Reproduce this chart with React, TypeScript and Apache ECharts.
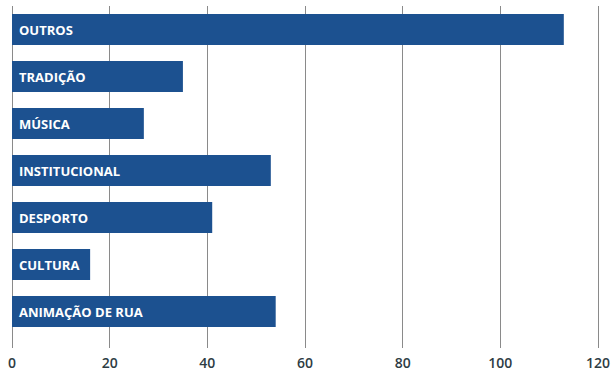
import React, { useEffect, useRef } from "react";
import * as echarts from "echarts";

const categories = ["OUTROS", "TRADIÇÃO", "MÚSICA", "INSTITUCIONAL", "DESPORTO", "CULTURA", "ANIMAÇÃO DE RUA"];
const values = [113, 35, 27, 53, 41, 16, 54];
const xTicks = { min: 0, max: 120, interval: 20 };

export default function App() {
  const ref = useRef<HTMLDivElement>(null);
  useEffect(() => {
    const chart = echarts.init(ref.current!, undefined, { renderer: "svg" });
    chart.setOption({
      animation: false,
      backgroundColor: "#ffffff",
      grid: { left: 12, right: 12, top: 6, bottom: 35, containLabel: false },
      xAxis: {
        type: "value",
        min: xTicks.min,
        max: xTicks.max,
        interval: xTicks.interval,
        axisLine: { show: false },
        axisTick: { show: true, length: 13, lineStyle: { color: "#8a8a8a", width: 1 } },
        splitLine: { show: true, lineStyle: { color: "#8a8a8a", width: 1 } },
        axisLabel: {
          margin: 20,
          color: "#2e3c44",
          fontSize: 14,
          fontWeight: 600,
          fontFamily: "Open Sans",
        },
      },
      yAxis: {
        type: "category",
        data: categories,
        inverse: true,
        axisLine: { show: false },
        axisTick: { show: false },
        axisLabel: { show: false },
        splitLine: { show: false },
      },
      series: [
        {
          type: "bar",
          data: values,
          barWidth: 31,
          itemStyle: { color: "#1c5190" },
          label: {
            show: true,
            position: "insideLeft",
            distance: 7,
            formatter: (p: any) => p.name,
            color: "#ffffff",
            fontSize: 13,
            fontWeight: "bold",
            fontFamily: "Open Sans",
          },
        },
      ],
    });
    return () => chart.dispose();
  }, []);
  return (
    <div
      ref={ref}
      style={{ position: "fixed", left: 0, top: 0, width: 613, height: 370 }}
    />
  );
}
